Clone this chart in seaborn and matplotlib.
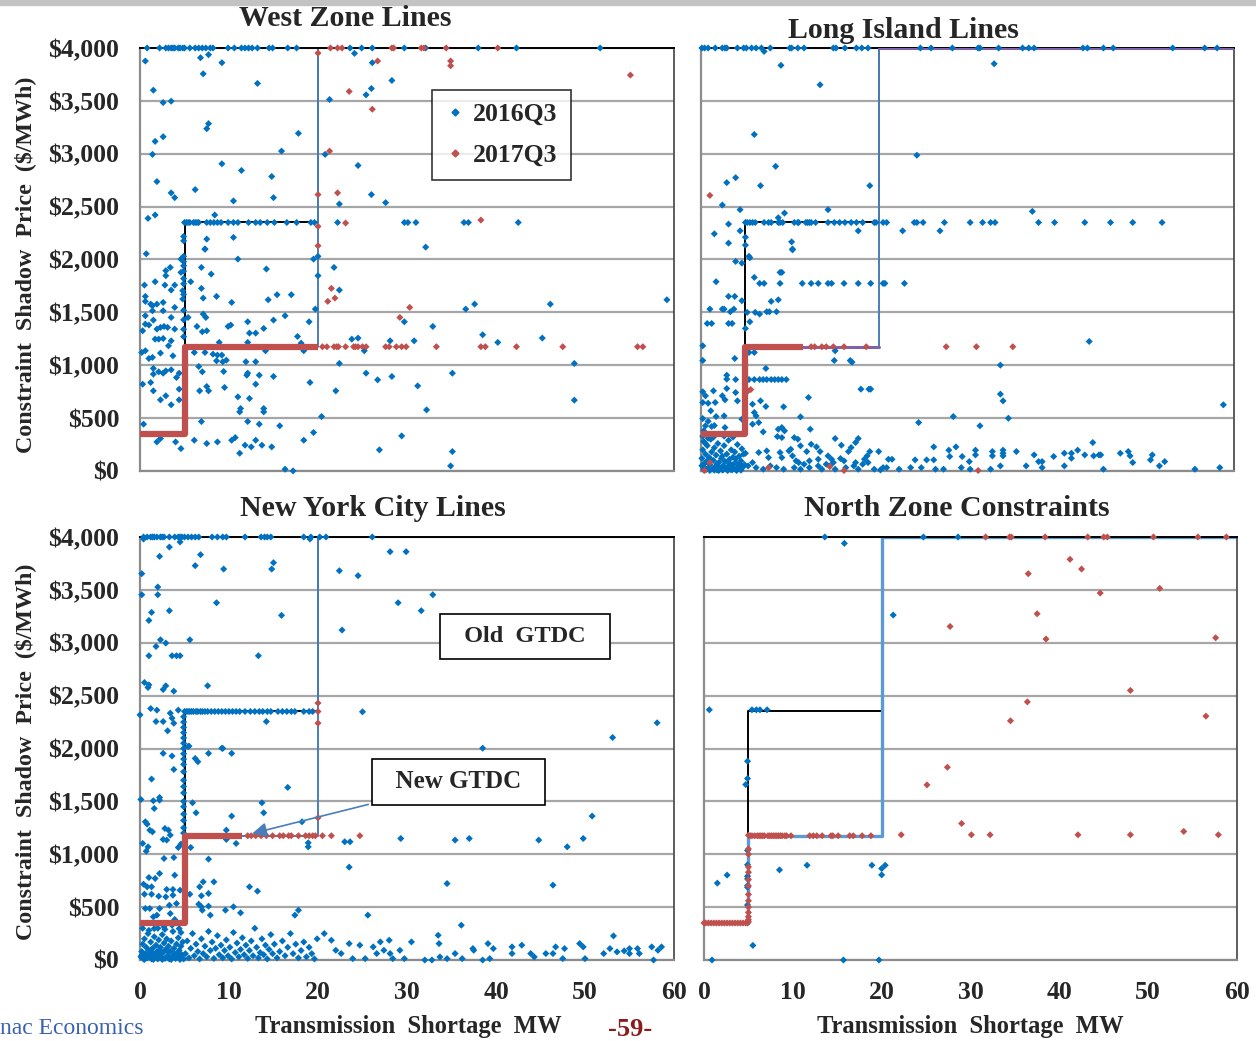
import matplotlib
matplotlib.use("Agg")
import matplotlib.pyplot as plt
import seaborn as sns
import pandas as pd
from matplotlib.lines import Line2D
from matplotlib.patches import Rectangle

sns.set_theme(style="white")
plt.rcParams['font.family'] = ['Liberation Serif', 'DejaVu Serif']
plt.rcParams['font.weight'] = 'bold'

BLUE = '#0070c0'
RED = '#c0504d'
GTDC_NEW = '#4a7ebb'

# ---------------- common ----------------
y_ticks = [0, 500, 1000, 1500, 2000, 2500, 3000, 3500, 4000]
y_tick_labels = ['$0', '$500', '$1,000', '$1,500', '$2,000', '$2,500', '$3,000', '$3,500', '$4,000']
x_ticks = [0, 10, 20, 30, 40, 50, 60]
old_gtdc_x = [0, 5, 5, 20, 20, 60]
old_gtdc_y = [350, 350, 2350, 2350, 4000, 4000]
new_gtdc_x = [0, 5, 5, 20, 20, 60]
new_gtdc_y = [350, 350, 1175, 1175, 4000, 4000]

# ---------------- West Zone ----------------
west_2016_top_x = [0.8, 2.2, 2.9, 3.2, 3.5, 3.7, 3.9, 4.3, 4.5, 4.8, 5.0, 5.6, 6.2, 6.6, 7.0, 7.4, 7.9, 8.2,
                   9.9, 10.6, 11.4, 11.8, 12.2, 12.6, 13.2, 14.5, 14.9, 16.6, 17.6, 23.6, 24.9, 26.1, 29.7,
                   32.1, 38.0, 42.3, 51.7]
west_2016_row2350_x = [5.0, 5.2, 5.4, 5.6, 6.0, 6.2, 6.4, 6.6, 7.5, 7.9, 8.3, 8.7, 9.1, 9.9, 10.5, 11.0, 12.2,
                       13.0, 13.5, 14.3, 15.1, 16.5, 17.6, 19.2, 19.6, 22.2, 29.7, 30.1, 31.0, 36.4, 36.9, 42.5]
west_2016_col5_y = [2218, 2177, 2030, 1980, 1940, 1890, 1820, 1770, 1670, 1520, 1430, 1340, 1270]
west_2016_pts = [
    (0.6, 3877), (6.8, 3908), (7.7, 3937), (9.2, 3861), (7.1, 3756), (13.2, 3665), (1.5, 3601), (2.6, 3484),
    (3.5, 3497), (7.7, 3285), (7.5, 3237), (1.7, 3117), (2.6, 3161), (17.8, 3193), (1.4, 2994), (15.9, 3025),
    (9.2, 2905), (11.4, 2842), (14.8, 2785), (1.9, 2737), (3.5, 2630), (3.9, 2585), (6.2, 2661), (10.5, 2554),
    (15.0, 2585), (0.9, 2389), (1.7, 2421), (8.4, 2421), (21.3, 3513), (24.1, 3949), (26.1, 3861), (26.0, 3617),
    (25.4, 3557), (28.3, 3693), (20.8, 2994), (24.5, 2889), (26.0, 2614), (22.4, 2525), (27.6, 2538),
    (32.1, 2117), (7.5, 2193), (10.5, 2209), (7.3, 2098), (0.7, 2054),
    (2.9, 1894), (3.4, 1925), (2.9, 1847), (1.7, 1790), (0.5, 1758), (2.8, 1758), (3.9, 1758), (3.5, 1711),
    (0.6, 1651), (0.6, 1604), (1.2, 1578), (1.9, 1578), (1.4, 1563), (2.6, 1594), (1.4, 1515), (2.6, 1515),
    (3.9, 1547), (4.6, 2004), (4.6, 1878), (4.8, 1705), (4.8, 1626), (0.6, 1468), (1.5, 1427), (0.6, 1389),
    (1.0, 1380), (0.3, 1326), (1.9, 1342), (2.3, 1358), (2.7, 1367), (3.1, 1358), (3.9, 1342), (3.5, 1452),
    (1.7, 1247), (2.1, 1247), (2.6, 1253), (3.5, 1231), (3.2, 1184), (0.2, 1121), (0.6, 1137), (1.0, 1064),
    (1.4, 1074), (2.3, 1115), (3.7, 1089), (1.5, 970), (1.5, 916), (2.1, 938), (2.6, 925), (2.9, 947),
    (3.5, 957), (4.4, 925), (4.1, 884), (0.3, 821), (1.2, 837), (1.5, 758), (2.3, 673), (2.9, 711), (3.5, 626),
    (4.4, 673), (4.4, 774), (0.4, 443), (1.9, 275), (2.3, 307), (4.0, 275), (4.6, 212),
    (7.3, 2099), (11.0, 2004), (6.9, 1925), (8.0, 1862), (5.7, 1790), (6.9, 1727), (7.1, 1635), (8.6, 1651),
    (10.3, 1594), (7.1, 1484), (7.4, 1452), (6.4, 1367), (7.0, 1317), (7.5, 1326), (5.4, 1452), (14.2, 1910),
    (14.4, 1619), (15.4, 1667), (17.0, 1667), (9.9, 1367), (10.2, 1380), (12.1, 1411), (12.3, 1304),
    (13.0, 1304), (13.9, 1348), (15.0, 1427), (16.3, 1468), (17.7, 1272), (18.1, 1209), (19.0, 1411),
    (19.7, 1531), (19.5, 2004), (20.0, 1847), (20.0, 2030), (6.1, 1121), (7.3, 1121), (8.2, 1105), (8.7, 1096),
    (9.2, 1096), (8.9, 1216), (8.6, 1042), (9.3, 1033), (9.7, 1048), (6.6, 988), (7.0, 938), (9.4, 941),
    (12.1, 1216), (14.1, 1137), (11.9, 1033), (13.0, 1033), (12.1, 925), (12.0, 906), (13.4, 906), (15.0, 894),
    (13.0, 821), (6.7, 758), (7.5, 799), (7.7, 758), (9.5, 790), (11.0, 701), (12.3, 686), (11.3, 591),
    (11.2, 559), (13.9, 591), (13.9, 559), (18.4, 1137), (19.1, 837), (6.9, 468), (12.1, 468), (13.4, 443),
    (15.7, 427), (6.1, 291), (7.5, 260), (8.7, 275), (10.3, 291), (10.7, 316), (11.2, 168), (11.8, 244),
    (12.5, 228), (13.0, 291), (13.7, 244), (14.8, 228), (16.3, 17), (17.2, 1), (18.4, 291), (19.5, 364),
    (20.4, 515), (21.8, 1925), (22.4, 1711), (23.8, 1247), (24.5, 1257), (25.2, 1137), (22.4, 1017),
    (22.0, 758), (25.4, 925), (26.7, 862), (28.3, 894), (28.1, 1231), (29.7, 1411), (30.8, 1231),
    (32.9, 1367), (31.2, 805), (32.2, 578), (29.4, 332), (26.9, 200), (35.1, 925), (35.1, 184), (34.9, 48),
    (36.6, 1531), (37.6, 1578), (38.5, 1288), (40.2, 1216), (45.2, 1257), (46.1, 1578), (48.8, 1017),
    (48.8, 670), (59.2, 1619)]
west_2017_top_x = [21.4, 22.2, 22.7, 28.3, 28.5, 31.6, 31.9, 34.4, 40.2]
west_2017_row1175_x = [20.5, 21.0, 21.8, 22.1, 22.3, 23.1, 24.0, 24.2, 24.5, 25.0, 25.4, 27.6, 28.0, 28.8,
                       29.4, 29.9, 33.3, 38.3, 38.8, 42.3, 47.5, 55.9, 56.5]
west_2017_pts = [(20.0, 3952), (23.5, 3589), (26.7, 3877), (34.9, 3877), (34.9, 3832), (55.1, 3744),
                 (26.1, 3421), (21.3, 3025), (20.0, 2614), (22.2, 2630), (23.1, 2345), (38.3, 2373),
                 (20.0, 2313), (20.0, 2130), (21.5, 1727), (21.1, 1604), (21.9, 1635), (29.2, 1452),
                 (30.3, 1547)]
west_2017_band_x = [0, 5, 5, 20]
west_2017_band_y = [350, 350, 1175, 1175]

# ---------------- Long Island ----------------
li_2016_top_x = [0.1, 0.4, 0.8, 1.6, 2.4, 2.7, 2.9, 4.1, 4.8, 5.1, 5.7, 6.2, 6.8, 7.8, 10.0, 10.2, 10.9, 11.6,
                 14.9, 15.2, 16.2, 17.5, 18.1, 18.8, 24.7, 25.9, 28.3, 31.2, 31.4, 33.5, 36.2, 36.9, 37.5,
                 43.0, 43.5, 45.3, 46.4, 53.1, 56.7, 58.1]
li_2016_row2350_x = [5.0, 5.2, 5.5, 5.8, 6.1, 7.1, 7.6, 7.9, 8.7, 8.9, 9.2, 10.5, 10.9, 11.0, 11.8, 12.0, 12.2,
                     12.4, 12.9, 14.3, 15.0, 15.6, 16.2, 16.9, 17.5, 18.2, 19.5, 19.7, 20.5, 20.9, 24.0, 24.3,
                     25.0, 27.4, 30.3, 31.7, 32.6, 33.1, 38.0, 39.8, 43.2, 46.1, 48.6, 51.9]
li_2016_row1774_x = [6.6, 7.1, 8.9, 11.4, 12.4, 13.2, 14.3, 14.7, 16.1, 17.7, 19.1, 20.5, 20.7, 22.9]
li_2016_row865_x = [5.0, 5.4, 6.0, 6.6, 7.0, 7.4, 7.9, 8.3, 8.7, 9.1, 9.6]
li_2016_pts = [
    (7.1, 3968), (9.0, 3836), (33.0, 3851), (13.4, 3652), (6.0, 3182), (24.3, 2986), (8.4, 2881), (3.9, 2774),
    (2.9, 2727), (6.7, 2698), (19.0, 2698), (2.4, 2515), (4.4, 2471), (9.4, 2439), (8.7, 2395), (14.3, 2471),
    (37.3, 2455), (3.1, 2335), (1.5, 2243), (4.4, 2271), (3.1, 2155), (5.0, 2211), (5.0, 2136), (10.2, 2167),
    (10.3, 2091), (5.5, 2016), (17.7, 2271), (22.7, 2271), (26.9, 2271),
    (5.4, 2030), (10.3, 2099), (3.9, 1982), (4.6, 1966), (1.7, 1790), (6.0, 1831), (8.9, 1878), (9.1, 1878),
    (3.1, 1651), (3.8, 1651), (4.6, 1610), (1.0, 1531), (2.4, 1531), (2.6, 1531), (3.3, 1506), (3.7, 1531),
    (5.2, 1500), (6.1, 1500), (6.6, 1484), (7.4, 1506), (7.7, 1506), (7.9, 1604), (8.7, 1619), (8.5, 1506),
    (0.7, 1395), (1.2, 1395), (3.1, 1395), (3.5, 1395), (5.5, 1411), (5.0, 1348), (0.2, 1184), (0.2, 1045),
    (3.8, 1064), (5.4, 1121), (6.0, 1121), (7.3, 970), (15.1, 1137), (15.0, 1045), (16.8, 1045), (17.0, 1029),
    (33.7, 1001), (43.7, 1225),
    (2.9, 906), (2.9, 869), (3.9, 865), (2.9, 780), (2.4, 711), (2.7, 673), (0.2, 749), (0.5, 711), (1.4, 758),
    (0.2, 648), (0.8, 641), (1.6, 648), (3.9, 742), (4.1, 663), (1.1, 569), (1.7, 515), (2.6, 521), (0.2, 496),
    (0.5, 427), (1.2, 421), (2.7, 411), (4.6, 490), (5.8, 632), (6.0, 553), (6.2, 521), (6.7, 663), (7.3, 610),
    (5.8, 443), (6.5, 458), (7.0, 370), (8.7, 395), (9.1, 411), (9.3, 607), (9.4, 380), (11.2, 512),
    (12.1, 695), (12.3, 395), (18.0, 774), (18.9, 774), (19.1, 774), (24.5, 458), (28.4, 515), (31.4, 427),
    (33.7, 727), (34.0, 663), (34.6, 499), (58.8, 626),
    (8.6, 326), (9.1, 316), (10.5, 316), (10.9, 301), (11.2, 238), (11.9, 184), (12.4, 253), (13.0, 228),
    (13.4, 184), (14.3, 143), (14.7, 111), (15.1, 307), (15.8, 244), (16.6, 184), (16.9, 222), (17.4, 269),
    (17.7, 307), (18.4, 111), (18.7, 143), (19.0, 184), (20.0, 184), (21.1, 111), (21.5, 111), (24.1, 105),
    (25.4, 105), (26.2, 105), (26.2, 228), (27.9, 197), (28.0, 137), (28.7, 228), (29.4, 137), (30.2, 89),
    (30.9, 197), (30.9, 152), (32.8, 184), (32.8, 143), (34.0, 197), (34.0, 168), (34.0, 143), (35.5, 184),
    (37.5, 152), (38.0, 89), (38.4, 89), (39.7, 137), (40.9, 168), (41.7, 168), (41.7, 121), (42.4, 197),
    (43.2, 152), (44.1, 269), (44.2, 143), (44.8, 152), (45.0, 152), (47.2, 168), (48.1, 184), (48.3, 143),
    (48.6, 80), (50.8, 152), (50.6, 105), (52.2, 89), (51.6, 48), (55.6, 17), (58.4, 32), (45.3, 17),
    (40.9, 48), (38.4, 32), (36.6, 48), (33.7, 48), (32.6, 17), (30.3, 17), (29.3, 32), (27.3, 17), (26.4, 17),
    (24.8, 32), (23.6, 32), (22.3, 17), (20.5, 32), (20.2, 10), (19.5, 17), (17.7, 17), (16.3, 32), (15.1, 17),
    (14.5, 48), (13.6, 17), (12.2, 32), (11.2, 17), (10.5, 32), (9.3, 17), (8.5, 32), (7.8, 48), (7.0, 17),
    (6.2, 32), (5.8, 80), (5.3, 48), (5.0, 168), (6.5, 175), (7.4, 190), (7.6, 127), (8.9, 175), (9.1, 127),
    (9.9, 190), (10.1, 206), (10.3, 143), (10.7, 96), (11.0, 80), (11.6, 64), (12.2, 96), (13.2, 111),
    (13.2, 48), (14.1, 64), (14.9, 80), (15.7, 118), (16.1, 96), (17.2, 48), (17.4, 80), (18.2, 64), (18.8, 80),
    (20.9, 32),
    (0.1, 50), (0.1, 120), (0.2, 200), (0.3, 280), (0.4, 30), (0.5, 160), (0.6, 90), (0.7, 240), (0.8, 20),
    (0.9, 130), (1.0, 60), (1.1, 300), (1.2, 180), (1.3, 20), (1.4, 100), (1.5, 220), (1.6, 40), (1.7, 150),
    (1.8, 10), (1.9, 260), (2.0, 80), (2.1, 30), (2.2, 190), (2.3, 120), (2.4, 10), (2.5, 50), (2.6, 240),
    (2.7, 90), (2.8, 20), (2.9, 160), (3.0, 40), (3.1, 290), (3.2, 110), (3.3, 15), (3.4, 200), (3.5, 60),
    (3.6, 130), (3.7, 25), (3.8, 180), (3.9, 80), (4.0, 10), (4.1, 250), (4.2, 45), (4.3, 140), (4.4, 20),
    (4.5, 95), (4.6, 210), (4.7, 35), (4.8, 160), (4.9, 60), (0.2, 330), (0.8, 310), (1.4, 320), (2.6, 330),
    (3.6, 320), (0.3, 10), (0.6, 15), (1.0, 5), (1.5, 8), (2.0, 5), (2.5, 12), (3.0, 5), (3.5, 10), (4.0, 5),
    (4.5, 8), (0.5, 260), (0.3, 380), (0.8, 470), (1.5, 430), (0.4, 75), (1.1, 110), (1.8, 65), (2.4, 140),
    (3.2, 70), (3.9, 115), (4.4, 60)]
li_2017_row1175_x = [12.4, 12.8, 13.6, 14.1, 14.9, 16.1, 18.6, 27.6, 31.0, 35.1]
li_2017_pts = [(1.0, 2606), (1.0, 80), (0.4, 5), (7.6, 32), (14.5, 42), (16.1, 5), (31.2, 5), (5.3, 758),
               (5.6, 770)]
li_2017_band_x = [0, 5, 5, 11.5]
li_2017_band_y = [350, 350, 1175, 1175]
li_overlay_x = [5, 20, 20, 20, 60]
li_overlay_y = [1175, 1175, float('nan'), 4000, 4000]

# ---------------- New York City ----------------
nyc_2016_top_x = [0.4, 0.8, 1.2, 1.4, 1.6, 1.9, 2.3, 2.5, 2.7, 3.3, 3.9, 4.3, 4.5, 4.7, 5.0, 5.4, 5.8, 6.2, 6.6,
                  8.1, 8.7, 9.3, 9.7, 11.8, 13.6, 14.0, 14.3, 14.7, 18.4, 19.2, 20.2, 20.9, 26.1]
nyc_2016_row2350_x = [5.0, 5.2, 5.4, 5.6, 5.8, 6.0, 6.3, 6.5, 6.8, 7.0, 7.3, 7.6, 8.0, 8.4, 8.8, 9.2, 9.6, 10.0,
                      10.4, 10.8, 11.2, 11.8, 12.4, 12.9, 13.4, 13.8, 14.3, 14.7, 15.5, 16.0, 16.5, 17.0, 17.4,
                      18.4, 19.0, 19.4]
nyc_2016_col5_y = [2300, 2250, 2200, 2150, 2100, 2050, 2000, 1950, 1900, 1850, 1780, 1700, 1640, 1580, 1500,
                   1450, 1380, 1320, 1250, 1200]
nyc_2016_pts = [
    (0.4, 3981), (19.1, 3981), (4.5, 3953), (3.3, 3905), (2.2, 3817), (6.8, 3833), (6.2, 3729), (9.4, 3697),
    (14.8, 3697), (15.0, 3757), (0.2, 3653), (28.1, 3861), (29.9, 3861), (22.4, 3681), (24.5, 3634),
    (2.0, 3527), (0.2, 3454), (2.0, 3454), (8.6, 3378), (1.3, 3287), (3.3, 3303), (1.0, 3211), (15.9, 3259),
    (29.0, 3378), (32.9, 3454), (31.6, 3303), (22.7, 3120), (2.3, 3028), (2.9, 2997), (5.6, 3028), (1.8, 2965),
    (1.0, 2877), (3.6, 2877), (4.1, 2877), (4.5, 2877), (13.3, 2877), (0.5, 2624), (1.0, 2602), (0.9, 2577),
    (2.9, 2593), (2.6, 2558), (3.8, 2542), (7.6, 2593), (1.2, 2378), (1.9, 2363), (0.0, 2318), (3.4, 2334),
    (3.6, 2287), (1.8, 2255), (2.6, 2255), (3.8, 2239), (3.1, 2167), (4.3, 2363), (14.2, 2255), (25.0, 2347),
    (58.1, 2243), (53.1, 2104), (38.5, 2003), (9.2, 2003), (5.4, 2019),
    (5.5, 2023), (2.6, 1954), (3.6, 1929), (3.8, 1802), (6.2, 1906), (6.5, 1875), (7.7, 1954), (9.3, 2001),
    (10.3, 1954), (1.3, 1711), (0.1, 1518), (1.5, 1506), (1.6, 1433), (2.2, 1537), (2.2, 1512), (5.9, 1487),
    (6.3, 1392), (10.3, 1361), (13.7, 1487), (13.9, 1392), (16.6, 1632), (0.6, 1307), (0.8, 1285), (1.1, 1228),
    (1.4, 1212), (2.8, 1244), (3.2, 1228), (3.4, 1181), (2.6, 1140), (3.0, 1134), (0.3, 1102), (0.9, 1070),
    (0.7, 1029), (4.3, 1064), (4.6, 1096), (5.7, 1064), (9.7, 1228), (9.7, 1140), (10.8, 1102), (18.2, 1307),
    (18.9, 1108), (18.9, 1070), (23.0, 1118), (23.6, 1118), (29.3, 1149), (35.4, 1134), (37.0, 1149),
    (44.8, 1134), (48.0, 1070), (49.8, 1149), (50.8, 1361), (23.5, 878), (34.5, 723), (46.4, 708), (25.6, 424),
    (36.1, 329), (2.7, 960), (3.8, 969), (7.7, 954), (3.9, 802), (2.2, 818), (1.0, 780), (0.4, 717), (1.7, 771),
    (1.3, 692), (0.8, 692), (2.1, 603), (3.0, 667), (3.7, 667), (2.9, 597), (3.7, 613), (0.5, 622), (1.3, 622),
    (4.5, 660), (4.1, 534), (5.6, 622), (6.7, 692), (6.9, 607), (7.1, 739), (7.7, 629), (8.3, 739), (12.3, 692),
    (13.2, 651), (6.6, 528), (6.9, 503), (7.0, 471), (7.9, 424), (7.7, 509), (9.6, 471), (10.5, 503),
    (11.3, 446), (17.8, 471), (17.4, 424), (0.6, 487), (1.1, 487), (1.9, 424), (2.2, 487), (3.3, 518),
    (3.4, 439), (1.5, 408), (3.9, 383), (1.6, 297), (2.7, 313), (3.6, 329), (4.4, 297),
    (20.7, 250), (21.5, 187), (22.0, 92), (22.6, 61), (23.5, 155), (23.9, 13), (24.7, 140), (25.3, 13),
    (26.2, 124), (26.6, 61), (27.0, 171), (27.4, 92), (28.0, 187), (28.1, 61), (28.4, 13), (29.2, 92),
    (30.5, 171), (29.7, 13), (32.0, 0), (32.8, 0), (33.5, 234), (33.6, 155), (33.7, 29), (34.5, 13), (35.4, 61),
    (36.2, 13), (37.4, 108), (37.5, 92), (38.5, 0), (39.1, 155), (39.3, 13), (39.7, 108), (41.8, 124),
    (41.8, 61), (42.9, 140), (43.9, 61), (44.3, 29), (45.6, 61), (46.4, 61), (46.7, 124), (47.5, 13),
    (47.7, 108), (49.4, 155), (49.8, 124), (50.0, 13), (52.1, 61), (52.8, 108), (53.2, 228), (53.6, 77),
    (54.4, 86), (55.0, 108), (55.0, 61), (55.9, 108), (56.1, 61), (57.5, 124), (57.7, 0), (58.2, 92),
    (58.6, 124),
    (0.1, 30), (0.2, 80), (0.3, 150), (0.4, 10), (0.5, 200), (0.6, 60), (0.7, 120), (0.8, 20), (0.9, 250),
    (1.0, 90), (1.1, 40), (1.2, 170), (1.3, 10), (1.4, 110), (1.5, 60), (1.6, 220), (1.7, 30), (1.8, 140),
    (1.9, 80), (2.0, 10), (2.1, 190), (2.2, 50), (2.3, 120), (2.4, 25), (2.5, 240), (2.6, 70), (2.7, 160),
    (2.8, 15), (2.9, 100), (3.0, 200), (3.1, 40), (3.2, 130), (3.3, 10), (3.4, 80), (3.5, 180), (3.6, 30),
    (3.7, 270), (3.8, 110), (3.9, 60), (4.0, 15), (4.1, 150), (4.2, 40), (4.3, 210), (4.4, 90), (4.5, 20),
    (4.6, 130), (4.7, 50), (4.8, 170), (4.9, 10), (0.3, 300), (1.0, 280), (2.0, 300), (2.8, 290), (4.6, 260),
    (0.5, 5), (1.5, 5), (2.5, 5), (3.5, 5), (4.5, 5), (0.2, 45), (1.2, 70), (2.2, 95), (3.2, 75), (4.2, 65),
    (5.1, 60), (5.3, 180), (5.5, 20), (5.7, 110), (5.9, 250), (6.1, 40), (6.3, 150), (6.5, 80), (6.7, 10),
    (6.9, 200), (7.1, 60), (7.3, 130), (7.5, 30), (7.7, 270), (7.9, 90), (8.1, 170), (8.3, 15), (8.5, 110),
    (8.7, 230), (8.9, 50), (9.1, 140), (9.3, 20), (9.5, 90), (9.7, 190), (9.9, 40), (10.1, 120), (10.3, 10),
    (10.5, 260), (10.7, 70), (10.9, 160), (11.1, 30), (11.3, 100), (11.5, 210), (11.7, 50), (11.9, 140),
    (12.1, 15), (12.3, 90), (12.5, 180), (12.7, 40), (12.9, 300), (13.1, 120), (13.3, 20), (13.5, 70),
    (13.7, 200), (13.9, 50), (14.1, 140), (14.3, 10), (14.5, 100), (14.7, 240), (14.9, 60), (15.1, 150),
    (15.4, 20), (15.7, 80), (16.0, 180), (16.3, 40), (16.6, 120), (16.9, 250), (17.2, 60), (17.5, 150),
    (17.8, 20), (18.1, 90), (18.4, 170), (18.7, 30), (19.0, 120), (19.3, 60), (19.6, 10), (19.9, 200)]
nyc_2017_row1175_x = [12.1, 12.5, 13.0, 13.6, 14.2, 14.9, 15.7, 16.1, 16.7, 17.0, 17.8, 18.6, 19.0, 19.4,
                      19.7, 20.5, 21.5, 24.7]
nyc_2017_pts = [(20.0, 2430), (20.0, 2350), (20.0, 2240), (20.0, 1345)]
nyc_2017_band_x = [0, 5, 5, 11.5]
nyc_2017_band_y = [350, 350, 1175, 1175]

# ---------------- North Zone ----------------
north_2016_pts = [(13.6, 4000), (15.8, 3940), (24.7, 4000), (28.6, 4000), (21.3, 3262), (0.6, 2366),
                  (5.4, 2366), (5.9, 2366), (6.3, 2366), (7.1, 2366), (4.9, 1880), (4.9, 1716), (4.7, 1659),
                  (1.5, 727), (2.6, 803), (8.5, 852), (11.6, 896), (18.9, 896), (20.0, 865), (20.0, 805),
                  (20.4, 896), (5.5, 138), (0.9, 0), (15.7, 0), (19.7, 0), (4.9, 1036), (4.9, 900), (4.9, 792),
                  (4.9, 767), (4.9, 704), (4.9, 688), (4.9, 520)]
north_2017_top_x = [31.7, 34.4, 34.6, 38.4, 43.2, 45.0, 45.4, 50.6, 55.6, 58.8]
north_2017_pts = [(41.2, 3789), (42.5, 3697), (36.5, 3653), (44.6, 3470), (51.3, 3514), (37.5, 3274),
                  (27.7, 3154), (38.5, 3035), (57.6, 3047), (48.0, 2549), (36.4, 2441), (34.5, 2262),
                  (56.5, 2306), (27.4, 1823), (25.1, 1656), (29.0, 1291), (30.1, 1184), (32.2, 1184),
                  (42.1, 1184), (48.0, 1184), (54.0, 1216), (57.9, 1184), (22.2, 1184)]
north_2017_row1175_x = [5.2, 5.4, 5.7, 6.0, 6.2, 6.4, 6.6, 6.8, 7.2, 7.4, 7.6, 7.8, 8.0, 8.2, 8.4, 8.6, 8.8, 9.1,
                        9.3, 9.8, 11.9, 12.3, 12.7, 13.3, 14.3, 14.5, 15.1, 16.4, 16.8, 17.8, 18.8]
north_2017_row350_x = [0.0, 0.2, 0.5, 0.8, 1.1, 1.4, 1.7, 2.0, 2.3, 2.6, 2.9, 3.2, 3.5, 3.8, 4.1, 4.4, 4.7, 4.9]
north_2017_col5_y = [1180, 1050, 1000, 880, 830, 760, 700, 620, 560, 500, 450, 410, 380, 360]


def build_frame(b_pts, r_pts):
    rows = [(x, y, '2016Q3') for x, y in b_pts] + [(x, y, '2017Q3') for x, y in r_pts]
    return pd.DataFrame(rows, columns=['mw', 'price', 'period'])


panels = {
    'west': build_frame(
        west_2016_pts + [(x, 4000) for x in west_2016_top_x] + [(x, 2350) for x in west_2016_row2350_x]
        + [(4.9, y) for y in west_2016_col5_y],
        west_2017_pts + [(x, 4000) for x in west_2017_top_x] + [(x, 1175) for x in west_2017_row1175_x]),
    'li': build_frame(
        li_2016_pts + [(x, 4000) for x in li_2016_top_x] + [(x, 2350) for x in li_2016_row2350_x]
        + [(x, 1774) for x in li_2016_row1774_x] + [(x, 865) for x in li_2016_row865_x],
        li_2017_pts + [(x, 1175) for x in li_2017_row1175_x]),
    'nyc': build_frame(
        nyc_2016_pts + [(x, 4000) for x in nyc_2016_top_x] + [(x, 2350) for x in nyc_2016_row2350_x]
        + [(4.9, y) for y in nyc_2016_col5_y],
        nyc_2017_pts + [(x, 1175) for x in nyc_2017_row1175_x]),
    'north': build_frame(
        north_2016_pts,
        north_2017_pts + [(x, 4000) for x in north_2017_top_x] + [(x, 1175) for x in north_2017_row1175_x]
        + [(x, 350) for x in north_2017_row350_x] + [(5.0, y) for y in north_2017_col5_y]),
}

W, H = 1256, 1041
fig = plt.figure(figsize=(W / 100, H / 100), dpi=100)
fig.patches.append(Rectangle((0, 1 - 5 / H), 1, 5 / H, transform=fig.transFigure, color='#c3c3c3', zorder=0))


def ax_rect(l, r, t, b):
    return [l / W, 1 - b / H, (r - l) / W, (b - t) / H]


axes = {
    'west': fig.add_axes(ax_rect(140, 674, 48, 471)),
    'li': fig.add_axes(ax_rect(701, 1234, 48, 471)),
    'nyc': fig.add_axes(ax_rect(140, 674, 537, 960)),
    'north': fig.add_axes(ax_rect(704, 1237, 537, 960)),
}

for key, ax in axes.items():
    ax.set_xlim(0, 60)
    ax.set_ylim(0, 4000)
    ax.set_yticks(y_ticks)
    ax.set_xticks(x_ticks)
    ax.yaxis.grid(True, color='#a6a6a6', lw=1.6, zorder=0)
    ax.xaxis.grid(False)
    ax.set_axisbelow(True)
    for s in ['left', 'bottom']:
        ax.spines[s].set_color('#8c8c8c')
        ax.spines[s].set_linewidth(1.6)
    ax.spines['top'].set_color('black')
    ax.spines['top'].set_linewidth(1.4)
    ax.spines['right'].set_color('#505050')
    ax.spines['right'].set_linewidth(1.3)
    ax.tick_params(axis='x', direction='out', length=6, width=1.2, color='#8c8c8c', pad=9,
                   labelsize=18.5)
    ax.tick_params(axis='y', length=0, pad=15, labelsize=18.5)
    if key in ('west', 'nyc'):
        ax.set_yticklabels(y_tick_labels)
    else:
        ax.set_yticklabels([])
    if key in ('nyc', 'north'):
        ax.set_xticklabels([str(v) for v in x_ticks])
    else:
        ax.set_xticklabels([])
    for lab in ax.get_xticklabels() + ax.get_yticklabels():
        lab.set_fontweight('bold')

    # tariff curves
    ax.plot(old_gtdc_x, old_gtdc_y, color='black', lw=1.4, zorder=2)
    if key == 'north':
        ax.plot(new_gtdc_x, new_gtdc_y, color='#5b9bd5', lw=2.4, zorder=2.5)
    else:
        ax.plot(new_gtdc_x, new_gtdc_y, color=GTDC_NEW, lw=1.4, zorder=2.5)
    if key == 'li':
        ax.plot(li_overlay_x, li_overlay_y, color='#7f62a8', lw=2.2, zorder=2.6)

    sns.scatterplot(data=panels[key], x='mw', y='price', hue='period',
                    palette={'2016Q3': BLUE, '2017Q3': RED}, marker='D', s=13, linewidth=0,
                    legend=False, ax=ax, zorder=3, clip_on=False)
    ax.set_xlabel('')
    ax.set_ylabel('')

axes['west'].plot(west_2017_band_x, west_2017_band_y, color=RED, lw=4.5, zorder=4, solid_capstyle='butt')
axes['li'].plot(li_2017_band_x, li_2017_band_y, color=RED, lw=4.5, zorder=4, solid_capstyle='butt')
axes['nyc'].plot(nyc_2017_band_x, nyc_2017_band_y, color=RED, lw=4.5, zorder=4, solid_capstyle='butt')

# legend in West panel
handles = [Line2D([], [], ls='none', marker='D', ms=3.5, color=BLUE),
           Line2D([], [], ls='none', marker='D', ms=3.5, color=RED)]
leg = axes['west'].legend(handles, ['2016Q3', '2017Q3'], loc='upper left', bbox_to_anchor=(0.547, 0.901),
                          borderaxespad=0, frameon=True, fancybox=False, edgecolor='black',
                          prop={'family': 'Liberation Serif', 'weight': 'bold', 'size': 18.5},
                          labelspacing=0.7, handletextpad=0.3, handlelength=0.8, borderpad=0.5)
leg.get_frame().set_linewidth(1.2)
leg.set_zorder(6)

# annotation boxes in NYC panel
box_old = dict(boxstyle='square,pad=0.5', fc='white', ec='black', lw=1.2)
box_new = dict(boxstyle='square,pad=0.45', fc='white', ec='black', lw=1.2)
axes['nyc'].text(0.721, 0.764, '  Old  GTDC  ', transform=axes['nyc'].transAxes, ha='center', va='center',
                 fontsize=17.5, fontweight='bold', bbox=box_old, zorder=6)
axes['nyc'].annotate('  New GTDC  ', xy=(12.3, 1190), xytext=(0.596, 0.421), textcoords='axes fraction',
                     ha='center', va='center', fontsize=18, fontweight='bold', bbox=box_new, zorder=6,
                     arrowprops=dict(arrowstyle='-|>', color=GTDC_NEW, lw=1.2, mutation_scale=22))

# titles
title_kw = dict(fontsize=21.5, fontweight='bold', ha='center', va='center')
fig.text(345 / W, 1 - 18 / H, 'West Zone Lines', **title_kw)
fig.text(903 / W, 1 - 30 / H, 'Long Island Lines', **title_kw)
fig.text(373 / W, 1 - 508 / H, 'New York City Lines', **title_kw)
fig.text(957 / W, 1 - 508 / H, 'North Zone Constraints', **title_kw)

# axis labels
ylab_kw = dict(fontsize=17.3, fontweight='bold', rotation=90, ha='center', va='center')
fig.text(25 / W, 1 - 265 / H, 'Constraint  Shadow  Price  ($/MWh)', **ylab_kw)
fig.text(25 / W, 1 - 752 / H, 'Constraint  Shadow  Price  ($/MWh)', **ylab_kw)
xlab_kw = dict(fontsize=17.7, fontweight='bold', ha='center', va='center')
fig.text(408 / W, 1 - 1027 / H, 'Transmission  Shortage  MW', **xlab_kw)
fig.text(970 / W, 1 - 1027 / H, 'Transmission  Shortage  MW', **xlab_kw)

# footer
fig.text(0 / W, 1 - 1028 / H, 'nac Economics', fontsize=17, fontweight='normal', color='#3a62b0',
         ha='left', va='center')
fig.text(630 / W, 1 - 1029 / H, '-59-', fontsize=19, fontweight='bold', color='#8b1c1c',
         ha='center', va='center')

fig.savefig('out.png', dpi=100)
